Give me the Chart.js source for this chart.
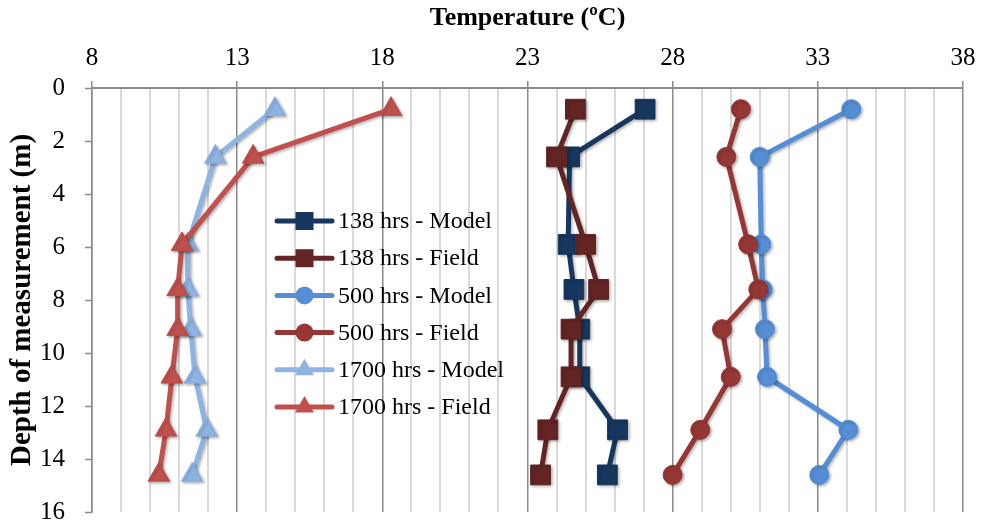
<!DOCTYPE html>
<html><head><meta charset="utf-8">
<script src="https://cdn.jsdelivr.net/npm/chart.js@4/dist/chart.umd.min.js"></script>
<style>html,body{margin:0;padding:0;background:#fff;}#wrap{width:982px;height:527px;position:relative;}</style>
</head><body><div id="wrap"><canvas id="c" width="982" height="527"></canvas></div>
<script>
// ---- data ----
const depths = [0.8, 2.6, 5.9, 7.6, 9.1, 10.9, 12.9, 14.6];
const seriesLabels = ['138 hrs - Model', '138 hrs - Field', '500 hrs - Model', '500 hrs - Field', '1700 hrs - Model', '1700 hrs - Field'];
const model138 = [27.05, 24.45, 24.4, 24.6, 24.8, 24.8, 26.1, 25.75];
const field138 = [24.65, 24.0, 25.0, 25.45, 24.5, 24.5, 23.7, 23.45];
const model500 = [34.15, 31.0, 31.05, 31.1, 31.18, 31.25, 34.05, 33.05];
const field500 = [30.35, 29.85, 30.6, 30.95, 29.7, 30.0, 28.95, 28.0];
const model1700 = [14.3, 12.25, 11.3, 11.3, 11.4, 11.55, 11.95, 11.45];
const field1700 = [18.3, 13.55, 11.1, 10.95, 10.95, 10.75, 10.55, 10.3];
const xTickLabels = [8, 13, 18, 23, 28, 33, 38];
const yTickLabels = [0, 2, 4, 6, 8, 10, 12, 14, 16];
const xTitle = 'Temperature (\u00BAC)';
const yTitle = 'Depth of measurement (m)';

// ---- styles ----
const allValues = [model138, field138, model500, field500, model1700, field1700];
const colors = ['#17375E', '#632523', '#558ED5', '#953735', '#8EB4E3', '#C0504D'];
const shapes = ['rect', 'rect', 'circle', 'circle', 'triangle', 'triangle'];
const radii = { rect: 14, circle: 9.5, triangle: 12.5 };
const FONT = '"Liberation Serif", "Times New Roman", serif';

const datasets = allValues.map((vals, i) => ({
  label: seriesLabels[i],
  data: vals.map((v, k) => ({ x: v, y: depths[k] })),
  showLine: true,
  borderColor: colors[i],
  backgroundColor: colors[i],
  borderWidth: 5,
  pointStyle: shapes[i],
  pointRadius: radii[shapes[i]],
  pointHoverRadius: radii[shapes[i]],
  pointBorderWidth: 1,
  pointBorderColor: colors[i],
  pointBackgroundColor: colors[i],
  order: 5 - i,
  tension: 0
}));

const shadowPlugin = {
  id: 'shadow',
  beforeDatasetsDraw(chart) {
    const ctx = chart.ctx;
    ctx.save();
    ctx.shadowColor = 'rgba(0,0,0,0.30)';
    ctx.shadowBlur = 3;
    ctx.shadowOffsetX = 1.5;
    ctx.shadowOffsetY = 1.5;
  },
  afterDatasetsDraw(chart) {
    chart.ctx.restore();
  }
};

const legendPlugin = {
  id: 'innerLegend',
  afterDatasetsDraw(chart) {
    const ctx = chart.ctx;
    const x0 = 277, x1 = 332, tx = 338, yStart = 221, dy = 37.2;
    ctx.save();
    seriesLabels.forEach((lab, i) => {
      const y = yStart + i * dy;
      const c = colors[i];
      ctx.strokeStyle = c;
      ctx.fillStyle = c;
      ctx.lineWidth = 5;
      ctx.lineCap = 'round';
      ctx.beginPath();
      ctx.moveTo(x0, y);
      ctx.lineTo(x1, y);
      ctx.stroke();
      const cx = (x0 + x1) / 2;
      ctx.beginPath();
      if (shapes[i] === 'rect') {
        ctx.rect(cx - 9, y - 9, 18, 18);
      } else if (shapes[i] === 'circle') {
        ctx.arc(cx, y, 9, 0, Math.PI * 2);
      } else {
        const r = 11;
        ctx.moveTo(cx, y - r);
        ctx.lineTo(cx + 0.866 * r, y + r / 2);
        ctx.lineTo(cx - 0.866 * r, y + r / 2);
        ctx.closePath();
      }
      ctx.fill();
      ctx.fillStyle = '#000';
      ctx.font = '24px ' + FONT;
      ctx.textBaseline = 'middle';
      ctx.textAlign = 'left';
      ctx.fillText(lab, tx, y + 1);
    });
    ctx.restore();
  }
};

const isMajor = v => xTickLabels.includes(v);

new Chart(document.getElementById('c'), {
  type: 'scatter',
  data: { datasets },
  plugins: [shadowPlugin, legendPlugin],
  options: {
    responsive: false,
    animation: false,
    devicePixelRatio: 1,
    layout: { padding: { left: 0, top: 0, right: 19, bottom: 15 } },
    plugins: { legend: { display: false }, tooltip: { enabled: false } },
    scales: {
      x: {
        type: 'linear',
        position: 'top',
        min: 8, max: 38,
        afterFit(s) { s.height = 88; s.paddingLeft = 0; s.paddingRight = 0; },
        ticks: {
          stepSize: 1,
          autoSkip: false,
          maxRotation: 0,
          padding: 8,
          color: '#000',
          font: { family: FONT, size: 25 },
          callback: v => (isMajor(v) ? String(v) : '')
        },
        grid: {
          color: c => (c.tick && isMajor(c.tick.value) ? '#8a8a8a' : '#d9d9d9'),
          lineWidth: c => (c.tick && isMajor(c.tick.value) ? 1.5 : 2),
          tickColor: c => (c.tick && isMajor(c.tick.value) ? '#8a8a8a' : 'rgba(0,0,0,0)'),
          tickLength: 7,
          tickWidth: 1.5
        },
        border: { color: '#8a8a8a', width: 2 },
        title: {
          display: true,
          text: xTitle,
          color: '#000',
          font: { family: FONT, size: 26, weight: 'bold' },
          padding: { top: 3, bottom: 0 }
        }
      },
      y: {
        type: 'linear',
        reverse: true,
        min: 0, max: 16,
        afterFit(s) { s.width = 92; s.paddingTop = 0; s.paddingBottom = 0; },
        ticks: {
          stepSize: 2,
          padding: 20,
          color: '#000',
          font: { family: FONT, size: 25 },
          callback: v => (yTickLabels.includes(v) ? String(v) : '')
        },
        grid: {
          drawOnChartArea: false,
          color: '#8a8a8a',
          tickLength: 7,
          tickWidth: 1.5
        },
        border: { color: '#8a8a8a', width: 1.5 },
        title: {
          display: true,
          text: yTitle,
          color: '#000',
          font: { family: FONT, size: 29, weight: 'bold' },
          padding: { top: 5, bottom: 0 }
        }
      }
    }
  }
});
</script>
</body></html>
